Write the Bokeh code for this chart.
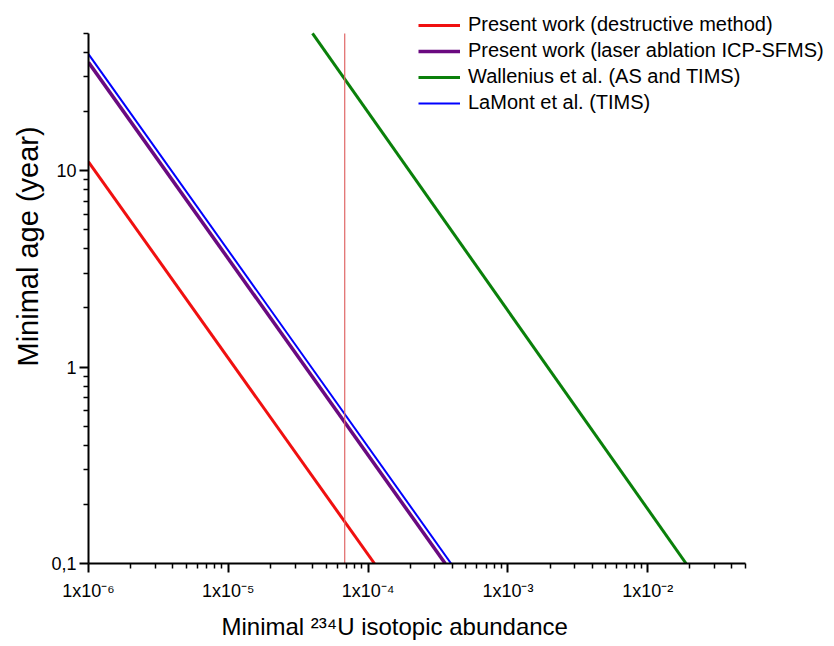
import numpy as np
from bokeh.plotting import figure
from bokeh.models import (FixedTicker, Legend, LegendItem, Title, Range1d)
from bokeh.embed import file_html
from bokeh.resources import INLINE

# ---- data ----
red_abund = [1.0e-6, 1.11e-4]
red_age = [11.1, 0.1]
purple_abund = [1.0e-6, 3.56e-4]
purple_age = [35.6, 0.1]
green_abund = [4.0e-5, 1.88e-2]
green_age = [50.0, 0.1]
blue_abund = [1.0e-6, 3.92e-4]
blue_age = [39.2, 0.1]
marker_abund = 6.8e-5

series_labels = [
    "Present work (destructive method)",
    "Present work (laser ablation ICP-SFMS)",
    "Wallenius et al. (AS and TIMS)",
    "LaMont et al. (TIMS)",
]

x_ticks = [1e-6, 1e-5, 1e-4, 1e-3, 1e-2]
x_tick_labels = ["1x10\u207b\u2076", "1x10\u207b\u2075", "1x10\u207b\u2074",
                 "1x10\u207b\u00b3", "1x10\u207b\u00b2"]
y_ticks = [0.1, 1, 10]
y_tick_labels = ["0,1", "1", "10"]

x_bounds = (1e-6, 5e-2)
y_bounds = (0.1, 50)

FONT = "Liberation Sans"

# frame geometry: axis box in the reference spans x 88..745, y 33..565;
# the frame is extended to the right/top edge so the legend is not clipped.
W, H = 834, 646
left, bottom = 88, 81
ax_right, ax_top = 745, 33
frame_w = W - left
frame_h = H - bottom
lx0, lx1 = np.log10(x_bounds)
ly0, ly1 = np.log10(y_bounds)
x_end = 10 ** (lx0 + (lx1 - lx0) * frame_w / (ax_right - left))
y_end = 10 ** (ly0 + (ly1 - ly0) * frame_h / (frame_h - ax_top))

p = figure(width=W, height=H, x_axis_type="log", y_axis_type="log",
           x_range=Range1d(x_bounds[0], x_end), y_range=Range1d(y_bounds[0], y_end),
           output_backend="svg", toolbar_location=None,
           min_border_left=left, min_border_right=0,
           min_border_top=0, min_border_bottom=bottom)
p.outline_line_color = None
p.xgrid.visible = False
p.ygrid.visible = False
p.background_fill_color = "white"
p.border_fill_color = "white"

x_minor = [k * 10.0 ** d for d in range(-6, -1) for k in range(2, 10)
           if k * 10.0 ** d <= x_bounds[1] * 1.0001]
y_minor = [k * 10.0 ** d for d in range(-1, 2) for k in range(2, 10)
           if k * 10.0 ** d <= y_bounds[1] * 1.0001]

p.xaxis.ticker = FixedTicker(ticks=x_ticks, minor_ticks=x_minor)
p.yaxis.ticker = FixedTicker(ticks=y_ticks, minor_ticks=y_minor)
p.xaxis.bounds = x_bounds
p.yaxis.bounds = y_bounds
p.xaxis.major_label_overrides = {t: l for t, l in zip(x_ticks, x_tick_labels)}
p.yaxis.major_label_overrides = {t: l for t, l in zip(y_ticks, y_tick_labels)}

for ax in (p.xaxis, p.yaxis):
    ax.axis_line_width = 2
    ax.axis_line_color = "black"
    ax.major_tick_line_width = 2
    ax.minor_tick_line_width = 1.5
    ax.major_tick_in = 0
    ax.minor_tick_in = 0
    ax.major_tick_out = 9
    ax.minor_tick_out = 5
    ax.major_label_text_font = FONT
    ax.major_label_text_font_size = "18px"
    ax.major_label_text_color = "black"
p.xaxis.major_label_standoff = 8
p.yaxis.major_label_standoff = 3

r_red = p.line(red_abund, red_age, line_color="#f01010", line_width=3)
r_purple = p.line(purple_abund, purple_age, line_color="#6a0a80", line_width=3.5)
r_green = p.line(green_abund, green_age, line_color="#0a800a", line_width=3)
r_blue = p.line(blue_abund, blue_age, line_color="#0000ff", line_width=2)

# thin vertical marker spanning the axis box
p.line([marker_abund, marker_abund], list(y_bounds), line_color="#e06666", line_width=1.2)

legend = Legend(items=[LegendItem(label=l, renderers=[r]) for l, r in
                       zip(series_labels, [r_red, r_purple, r_green, r_blue])],
                location=(330, 449), orientation="vertical",
                label_text_font=FONT, label_text_font_size="20px",
                label_text_color="black",
                glyph_width=42, glyph_height=20, label_height=20,
                label_standoff=8, spacing=3, padding=0, margin=0,
                border_line_color=None, background_fill_alpha=0)
p.add_layout(legend, "center")

# axis titles
ytitle = Title(text="Minimal age (year)", align="left", offset=197,
               text_font=FONT, text_font_size="29px", text_font_style="normal",
               text_color="black", standoff=10)
p.add_layout(ytitle, "left")
xtitle = Title(text="Minimal \u00b2\u00b3\u2074U isotopic abundance", align="left",
               offset=133, text_font=FONT, text_font_size="24px",
               text_font_style="normal", text_color="black", standoff=14)
p.add_layout(xtitle, "below")

open("out.html", "w").write(file_html(p, INLINE))
